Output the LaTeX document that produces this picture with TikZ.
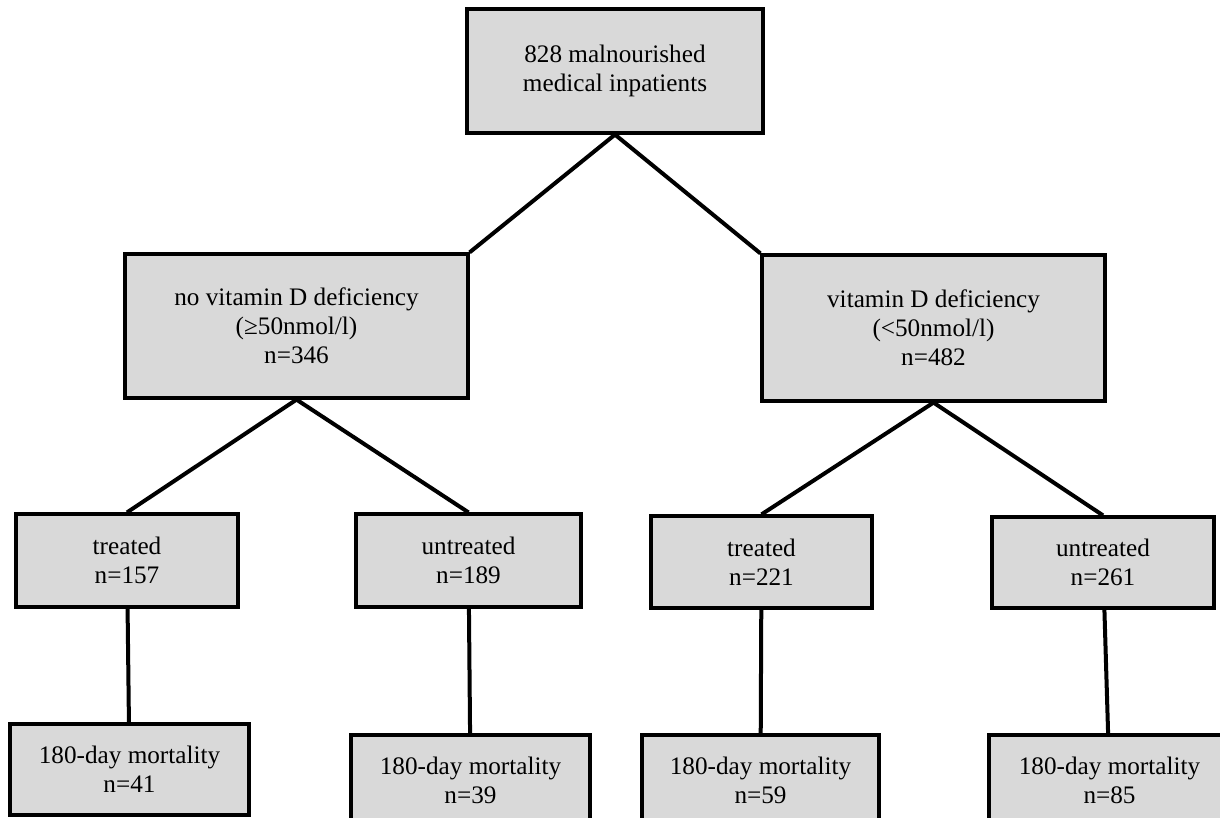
\documentclass[tikz,border=0pt]{standalone}
\usepackage{fontspec}
\setmainfont{Liberation Serif}
\begin{document}
\begin{tikzpicture}[x=0.5pt,y=-0.5pt,
		box/.style={draw,line width=1.6pt,fill=black!15,align=center,inner sep=0pt,
			font=\fontsize{12.6}{14.5}\selectfont},
		link/.style={line width=2pt}]
		\useasboundingbox (0,0) rectangle (1220,818);
		% top
		\node[box,minimum width=148pt,minimum height=62pt] (all) at (615,71) {828 malnourished\\medical inpatients};
		% vitamin D status
		\node[box,minimum width=171.5pt,minimum height=72pt] (nodef) at (296.5,326) {no vitamin D deficiency\\(≥50nmol/l)\\n=346};
		\node[box,minimum width=171.5pt,minimum height=73pt] (def) at (933.5,328) {vitamin D deficiency\\(<50nmol/l)\\n=482};
		% treatment
		\node[box,minimum width=111pt,minimum height=46.5pt] (trtA) at (127,560.5) {treated\\n=157};
		\node[box,minimum width=112.5pt,minimum height=46.5pt] (untA) at (468.5,560.5) {untreated\\n=189};
		\node[box,minimum width=110.5pt,minimum height=46pt] (trtB) at (761.5,562) {treated\\n=221};
		\node[box,minimum width=111pt,minimum height=45.5pt] (untB) at (1103,562.5) {untreated\\n=261};
		% mortality
		\node[box,minimum width=119.5pt,minimum height=45.5pt] (mortA) at (129.5,769.5) {180-day mortality\\n=41};
		\node[box,minimum width=119.5pt,minimum height=45.5pt] (mortB) at (470.5,780.5) {180-day mortality\\n=39};
		\node[box,minimum width=118.5pt,minimum height=45.5pt] (mortC) at (760.5,780.5) {180-day mortality\\n=59};
		\node[box,minimum width=120.5pt,minimum height=45.5pt] (mortD) at (1109.5,780.5) {180-day mortality\\n=85};
		\draw[link] (all.south) -- (nodef.north east);
		\draw[link] (all.south) -- (def.north west);
		\draw[link] (nodef.south) -- (trtA.north);
		\draw[link] (nodef.south) -- (untA.north);
		\draw[link] (def.south) -- (trtB.north);
		\draw[link] (def.south) -- (untB.north);
		\draw[link] (trtA) -- (mortA);
		\draw[link] (untA) -- (mortB);
		\draw[link] (trtB) -- (mortC);
		\draw[link] (untB) -- (mortD);
	\end{tikzpicture}
\end{document}
